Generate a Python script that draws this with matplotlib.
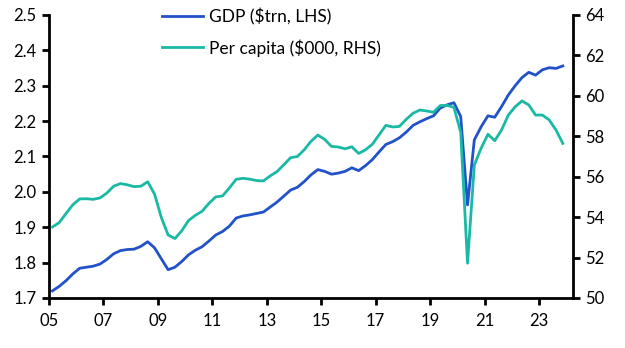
import numpy as np
import matplotlib.pyplot as plt

plt.rcParams["font.family"] = ["Lato", "DejaVu Sans"]
plt.rcParams["font.size"] = 12

# quarterly, 2005Q1 .. 2023Q4
start_year = 2005
gdp = [1.720, 1.733, 1.749, 1.768, 1.784, 1.787, 1.790, 1.796,
       1.809, 1.825, 1.834, 1.837, 1.838, 1.846, 1.859, 1.842,
       1.811, 1.780, 1.787, 1.803, 1.822, 1.835, 1.845, 1.861,
       1.878, 1.888, 1.903, 1.926, 1.932, 1.935, 1.939, 1.943,
       1.957, 1.971, 1.988, 2.005, 2.013, 2.029, 2.048, 2.063,
       2.058, 2.050, 2.053, 2.058, 2.068, 2.060, 2.074, 2.091,
       2.113, 2.134, 2.142, 2.153, 2.169, 2.188, 2.198, 2.207,
       2.215, 2.237, 2.246, 2.252, 2.213, 1.963, 2.147, 2.184,
       2.215, 2.211, 2.241, 2.274, 2.300, 2.323, 2.338, 2.330,
       2.345, 2.351, 2.349, 2.356]
per_capita = [53.51, 53.73, 54.18, 54.61, 54.90, 54.91, 54.88, 54.95,
              55.19, 55.53, 55.66, 55.60, 55.51, 55.53, 55.75, 55.15,
              53.99, 53.12, 52.94, 53.32, 53.83, 54.09, 54.29, 54.68,
              55.00, 55.05, 55.44, 55.87, 55.92, 55.88, 55.81, 55.79,
              56.04, 56.25, 56.59, 56.94, 57.00, 57.33, 57.75, 58.06,
              57.85, 57.50, 57.47, 57.38, 57.48, 57.15, 57.33, 57.60,
              58.07, 58.54, 58.46, 58.49, 58.84, 59.14, 59.30, 59.25,
              59.19, 59.52, 59.53, 59.43, 58.20, 51.72, 56.58, 57.41,
              58.10, 57.78, 58.31, 59.05, 59.46, 59.75, 59.55, 59.05,
              59.05, 58.81, 58.31, 57.65]

t = start_year + np.arange(len(gdp)) / 4 + 0.125
year_ticks = list(range(2005, 2024, 2))
year_labels = [str(y)[2:] for y in year_ticks]

fig = plt.figure(figsize=(6.25, 3.48), dpi=100)
ax = fig.add_axes([0.0784, 0.1437, 0.8384, 0.8132])
ax2 = ax.twinx()

l1, = ax.plot(t, gdp, color="#2152c9", lw=2.0, label="GDP ($trn, LHS)")
l2, = ax2.plot(t, per_capita, color="#19b9a5", lw=2.0, label="Per capita ($000, RHS)")

ax.set_xlim(2005, 2024.25)
ax.set_ylim(1.7, 2.5)
ax.set_yticks(np.arange(1.7, 2.51, 0.1))
ax.set_yticklabels([f"{v:.1f}" for v in np.arange(1.7, 2.51, 0.1)])
ax2.set_ylim(50, 64)
ax2.set_yticks(range(50, 65, 2))
ax.set_xticks(year_ticks)
ax.set_xticklabels(year_labels)

for a in (ax, ax2):
    a.spines["top"].set_visible(False)
    for s in ("left", "right", "bottom"):
        a.spines[s].set_linewidth(2.0)
    a.tick_params(width=2.0, length=5, direction="out", pad=4)
ax.tick_params(axis="x", pad=6)
ax.spines["right"].set_visible(False)
ax2.spines["left"].set_visible(False)
ax2.spines["bottom"].set_visible(False)

leg = ax.legend([l1, l2], [l1.get_label(), l2.get_label()], loc="upper left",
                bbox_to_anchor=(0.2, 1.055), frameon=False, borderpad=0,
                handlelength=2.36, handletextpad=0.3, labelspacing=0.8,
                fontsize=12.5)

fig.savefig("out.png", dpi=100)
